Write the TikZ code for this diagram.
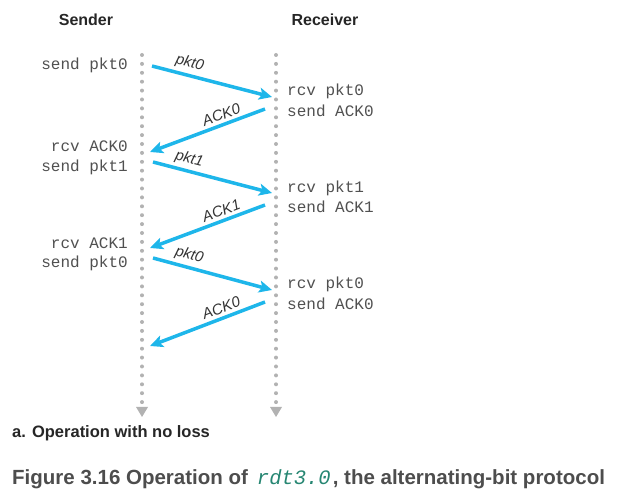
\documentclass[tikz,border=0pt]{standalone}
\usepackage{fontspec}
\setmainfont{Liberation Sans}
\setmonofont{Liberation Mono}
\usepackage{color}
\usetikzlibrary{arrows.meta}
\definecolor{msgblue}{RGB}{30,182,234}
\definecolor{dotgray}{RGB}{178,178,178}
\definecolor{txtgray}{RGB}{80,80,80}
\definecolor{capgray}{RGB}{77,77,77}
\definecolor{rdtgreen}{RGB}{38,134,114}

\begin{document}
\begin{tikzpicture}[x=1pt, y=-1pt,
		timeline/.style={draw=dotgray, line width=4pt, line cap=round, dash pattern=on 0pt off 8.9pt, -{Triangle[length=10pt, width=12pt, fill=dotgray, line width=0pt]}},
		msg/.style={draw=msgblue, line width=3.5pt, -{Stealth[length=13pt, width=12pt, inset=3pt]}},
		msglbl/.style={font=\fontsize{15}{15}\selectfont\itshape, text=black!80, sloped, above, inner sep=3pt},
		evt/.style={font=\fontsize{16}{16}\selectfont\ttfamily, text=txtgray, inner sep=0pt},
		head/.style={font=\fontsize{16}{16}\selectfont\bfseries, text=black!85, inner sep=0pt}]
	\useasboundingbox (0,0) rectangle (619,502);
				\node[head, anchor=base] (sender)at(86, 26) {Sender};
				\node[head, anchor=base] (receiver)at(325, 26) {Receiver};
				\coordinate (stop) at (142, 55);
				\coordinate (sbot) at (142, 417);
				\coordinate (rtop) at (276, 55);
				\coordinate (rbot) at (276, 417);
				\draw[timeline] (stop) -- (sbot);
				\draw[timeline] (rtop) -- (rbot);
				\node[evt, anchor=base east] (s1)at(128, 69.5) {send pkt0};
				\node[evt, anchor=base east] (s2)at(128, 151.5) {rcv ACK0};
				\node[evt, anchor=base east] (s3)at(128, 171.5) {send pkt1};
				\node[evt, anchor=base east] (s4)at(128, 248.5) {rcv ACK1};
				\node[evt, anchor=base east] (s5)at(128, 267.5) {send pkt0};
				\node[evt, anchor=base west] (r1)at(287, 95.5) {rcv pkt0};
				\node[evt, anchor=base west] (r2)at(287, 116.5) {send ACK0};
				\node[evt, anchor=base west] (r3)at(287, 192.5) {rcv pkt1};
				\node[evt, anchor=base west] (r4)at(287, 212.5) {send ACK1};
				\node[evt, anchor=base west] (r5)at(287, 288.5) {rcv pkt0};
				\node[evt, anchor=base west] (r6)at(287, 309.5) {send ACK0};
				\coordinate (m1s) at (152, 66);
				\coordinate (m1r) at (272, 97);
				\coordinate (a1r) at (265, 109);
				\coordinate (a1s) at (150, 152);
				\coordinate (m2s) at (153, 162);
				\coordinate (m2r) at (272, 193);
				\coordinate (a2r) at (265, 205);
				\coordinate (a2s) at (150, 248);
				\coordinate (m3s) at (153, 258);
				\coordinate (m3r) at (272, 290);
				\coordinate (a3r) at (265, 302);
				\coordinate (a3s) at (150, 346);
				\draw[msg] (m1s) -- node[msglbl, pos=0.29] {pkt0} (m1r);
				\draw[msg] (a1r) -- node[msglbl, pos=0.35] {ACK0} (a1s);
				\draw[msg] (m2s) -- node[msglbl, pos=0.28] {pkt1} (m2r);
				\draw[msg] (a2r) -- node[msglbl, pos=0.35] {ACK1} (a2s);
				\draw[msg] (m3s) -- node[msglbl, pos=0.28] {pkt0} (m3r);
				\draw[msg] (a3r) -- node[msglbl, pos=0.35] {ACK0} (a3s);
				\node[anchor=base west, inner sep=0pt, font=\fontsize{16.5}{16.5}\selectfont\bfseries, text=black!85] (sub)at(12, 438) {a. Operation with no loss};
				\node[anchor=base west, inner sep=0pt, font=\fontsize{20.5}{20.5}\selectfont\bfseries, text=capgray] (caption)at(12, 485) {Figure 3.16 Operation of\hspace{9pt}{\mdseries\ttfamily\itshape\color{rdtgreen}rdt3.0}\hspace{2pt}, the alternating-bit protocol};
			\end{tikzpicture}
\end{document}
